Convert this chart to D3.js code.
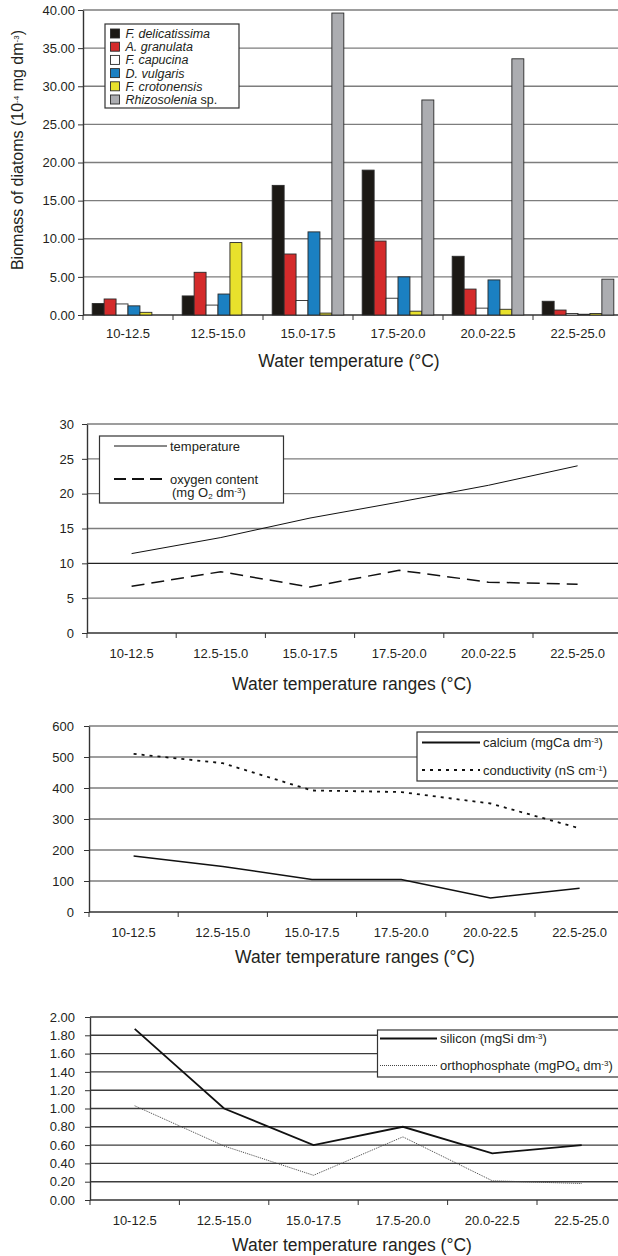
<!DOCTYPE html>
<html>
<head>
<meta charset="utf-8">
<script src="https://cdn.jsdelivr.net/npm/d3@7"></script>
<style>
  body { margin: 0; background: #fff; }
  svg { display: block; font-family: "Liberation Sans", Arial, sans-serif; }
  .tick text { fill: #231f20; }
</style>
</head>
<body>
<svg id="chart" width="618" height="1256"></svg>
<script>
'use strict'

// temperature ranges shared by all four panels
const categories = ['10-12.5', '12.5-15.0', '15.0-17.5', '17.5-20.0', '20.0-22.5', '22.5-25.0']

// panel 1 - biomass of diatoms (10^-4 mg dm^-3)
const species = ['F. delicatissima', 'A. granulata', 'F. capucina', 'D. vulgaris', 'F. crotonensis', 'Rhizosolenia']
const fDelicatissima = [1.5, 2.5, 17.0, 19.0, 7.7, 1.8]
const aGranulata = [2.1, 5.6, 8.0, 9.7, 3.4, 0.65]
const fCapucina = [1.45, 1.3, 1.9, 2.2, 0.9, 0.2]
const dVulgaris = [1.2, 2.75, 10.9, 5.0, 4.6, 0.1]
const fCrotonensis = [0.35, 9.5, 0.25, 0.5, 0.75, 0.2]
const rhizosolenia = [0, 0, 39.6, 28.2, 33.6, 4.7]
const biomassTicks = [0, 5, 10, 15, 20, 25, 30, 35, 40]

// panel 2
const temperature = [11.4, 13.7, 16.5, 18.8, 21.2, 24.0]
const oxygen = [6.7, 8.8, 6.6, 9.0, 7.3, 7.0]
const tempTicks = [0, 5, 10, 15, 20, 25, 30]

// panel 3
const calcium = [181, 147, 105, 105, 45, 77]
const conductivity = [510, 480, 392, 387, 350, 270]
const calciumTicks = [0, 100, 200, 300, 400, 500, 600]

// panel 4
const silicon = [1.87, 1.00, 0.60, 0.80, 0.51, 0.60]
const orthophosphate = [1.03, 0.59, 0.27, 0.69, 0.21, 0.18]
const siliconTicks = [0, 0.2, 0.4, 0.6, 0.8, 1.0, 1.2, 1.4, 1.6, 1.8, 2.0]

const svg = d3.select('#chart')
const ink = '#231f20'

function frame (p) {
  let t = {}
  t.x = d3.scaleBand().domain(categories).range([p.x0, p.x0 + p.step * categories.length])
  t.y = d3.scaleLinear().domain(p.domain).range([p.bottom, p.top])
  let g = svg.append('g')
  t.g = g
  // grid
  g.selectAll('.grid')
    .data(p.ticks.filter(function (v) { return v !== 0 }))
    .enter().append('line')
    .attr('x1', p.x0).attr('x2', 618)
    .attr('y1', function (v) { return t.y(v) })
    .attr('y2', function (v) { return t.y(v) })
    .attr('stroke', function (v) { return p.gridColor ? p.gridColor(v) : '#7d7d7d' })
    .attr('stroke-width', 1.4)
  // y axis
  let yAxis = d3.axisLeft(t.y).tickValues(p.ticks).tickFormat(d3.format(p.fmt))
    .tickSize(5).tickPadding(p.yPad).tickSizeOuter(0)
  g.append('g').attr('transform', `translate(${p.x0},0)`).call(yAxis)
    .call(function (a) {
      a.select('.domain').attr('stroke', '#333').attr('stroke-width', 1.4)
      a.selectAll('.tick line').attr('stroke', '#333')
      a.selectAll('text').attr('font-size', 13).attr('font-family', 'Liberation Sans, Arial, sans-serif')
    })
  // x axis: labels centred in each band, ticks on the band edges
  let xAxis = d3.axisBottom(t.x).tickSize(0).tickPadding(p.xPad)
  g.append('g').attr('transform', `translate(0,${p.bottom})`).call(xAxis)
    .call(function (a) {
      a.select('.domain').remove()
      a.selectAll('text').attr('font-size', 13).attr('font-family', 'Liberation Sans, Arial, sans-serif')
    })
  g.append('line')
    .attr('x1', p.x0).attr('x2', 618).attr('y1', p.bottom).attr('y2', p.bottom)
    .attr('stroke', '#333').attr('stroke-width', 1.4)
  g.selectAll('.edge')
    .data(categories)
    .enter().append('line')
    .attr('x1', function (d) { return t.x(d) })
    .attr('x2', function (d) { return t.x(d) })
    .attr('y1', p.bottom).attr('y2', p.bottom + 5)
    .attr('stroke', '#333')
  g.append('text')
    .attr('x', p.titleX).attr('y', p.titleY)
    .attr('text-anchor', 'middle')
    .attr('font-size', 17.5).attr('fill', ink)
    .text(p.title)
  return t
}

function drawLine (t, values, style) {
  let line = d3.line()
    .x(function (d, i) { return t.x(categories[i]) + t.x.bandwidth() / 2 })
    .y(function (d) { return t.y(d) })
  t.g.append('path')
    .datum(values)
    .attr('d', line)
    .attr('fill', 'none')
    .attr('stroke', style.color || '#111')
    .attr('stroke-width', style.width)
    .attr('stroke-dasharray', style.dash || null)
}

function legendBox (x, y, w, h) {
  svg.append('rect')
    .attr('x', x).attr('y', y).attr('width', w).attr('height', h)
    .attr('fill', '#fff').attr('stroke', '#333').attr('stroke-width', 1.2)
}

function legendEntry (x1, x2, y, style, parts) {
  svg.append('line')
    .attr('x1', x1).attr('x2', x2).attr('y1', y).attr('y2', y)
    .attr('stroke', style.color || '#111')
    .attr('stroke-width', style.width)
    .attr('stroke-dasharray', style.dash || null)
  let txt = svg.append('text')
    .attr('x', x2 + 3).attr('y', y + 4.5)
    .attr('font-size', 13).attr('fill', ink)
  addParts(txt, parts)
  return txt
}

// parts: array of [text, kind] with kind '', 'i', 'sup' or 'sub'
function addParts (txt, parts) {
  parts.forEach(function (p) {
    let s = txt.append('tspan').text(p[0])
    if (p[1] === 'sup') s.attr('font-size', 8).attr('baseline-shift', '55%')
    if (p[1] === 'sub') s.attr('font-size', 8).attr('baseline-shift', '-25%')
    if (p[1] === 'i') s.attr('font-style', 'italic')
  })
}

// ---------- panel 1: bars ----------
let p1 = frame({
  x0: 83, step: 90, top: 10, bottom: 315, domain: [0, 40],
  ticks: biomassTicks, fmt: '.2f', yPad: 3, xPad: 14,
  title: 'Water temperature (°C)', titleX: 349, titleY: 367
})
let seriesValues = [fDelicatissima, aGranulata, fCapucina, dVulgaris, fCrotonensis, rhizosolenia]
let barColors = ['#1c1915', '#d42b2b', '#ffffff', '#1b80c2', '#e8e12c', '#acadb1']
let inner = d3.scaleBand().domain(d3.range(species.length))
  .range([0, p1.x.bandwidth()]).paddingInner(0).paddingOuter(0.77)
let rows = []
categories.forEach(function (c, ci) {
  seriesValues.forEach(function (vals, si) {
    rows.push({cat: c, s: si, value: vals[ci]})
  })
})
p1.g.selectAll('.bar')
  .data(rows)
  .enter().append('rect')
  .attr('class', 'bar')
  .attr('x', function (d) { return p1.x(d.cat) + inner(d.s) })
  .attr('y', function (d) { return p1.y(d.value) })
  .attr('width', inner.bandwidth())
  .attr('height', function (d) { return p1.y(0) - p1.y(d.value) })
  .attr('fill', function (d) { return barColors[d.s] })
  .attr('stroke', '#2a2a2a')
  .attr('stroke-width', 0.9)

svg.append('text')
  .attr('transform', 'translate(23,150) rotate(-90)')
  .attr('text-anchor', 'middle')
  .attr('font-size', 16).attr('fill', ink)
  .call(function (txt) {
    addParts(txt, [['Biomass of diatoms (10', ''], ['-4', 'sup'], [' mg dm', ''], ['-3', 'sup'], [')', '']])
  })

legendBox(105, 24, 134, 84)
species.forEach(function (name, i) {
  let yy = 33.5 + i * 13.2
  svg.append('rect')
    .attr('x', 110.5).attr('y', yy - 4.5).attr('width', 9).attr('height', 9)
    .attr('fill', barColors[i]).attr('stroke', '#2a2a2a').attr('stroke-width', 0.9)
  let txt = svg.append('text')
    .attr('x', 125.5).attr('y', yy + 4.5)
    .attr('font-size', 12.5).attr('fill', ink)
  if (name === 'Rhizosolenia') addParts(txt, [[name, 'i'], [' sp.', '']])
  else addParts(txt, [[name, 'i']])
})

// ---------- panel 2: temperature / oxygen ----------
let p2 = frame({
  x0: 87, step: 89.2, top: 424, bottom: 633, domain: [0, 30],
  ticks: tempTicks, fmt: 'd', yPad: 8, xPad: 16,
  title: 'Water temperature ranges (°C)', titleX: 352, titleY: 690,
  gridColor: function (v) { return v === 10 ? '#222' : '#7d7d7d' }
})
drawLine(p2, temperature, {width: 1})
drawLine(p2, oxygen, {width: 1.5, dash: '13,7'})
legendBox(99.5, 436, 184, 67)
legendEntry(114, 167, 446, {width: 1}, [['temperature', '']])
legendEntry(114, 167, 479, {width: 1.8, dash: '12,6'}, [['oxygen content', '']])
svg.append('text').attr('x', 172).attr('y', 497)
  .attr('font-size', 13).attr('fill', ink)
  .call(function (txt) {
    addParts(txt, [['(mg O', ''], ['2', 'sub'], [' dm', ''], ['-3', 'sup'], [')', '']])
  })

// ---------- panel 3: calcium / conductivity ----------
let p3 = frame({
  x0: 89, step: 89.2, top: 726, bottom: 912, domain: [0, 600],
  ticks: calciumTicks, fmt: 'd', yPad: 10, xPad: 16,
  title: 'Water temperature ranges (°C)', titleX: 355, titleY: 963
})
drawLine(p3, calcium, {width: 1.5})
drawLine(p3, conductivity, {width: 1.8, dash: '3,5'})
legendBox(417, 732, 205, 49)
legendEntry(422, 480, 742.5, {width: 1.8}, [['calcium (mgCa dm', ''], ['-3', 'sup'], [')', '']])
legendEntry(422, 480, 770, {width: 1.8, dash: '3,5'}, [['conductivity (nS cm', ''], ['-1', 'sup'], [')', '']])

// ---------- panel 4: silicon / orthophosphate ----------
let p4 = frame({
  x0: 90, step: 89.4, top: 1017, bottom: 1200, domain: [0, 2],
  ticks: siliconTicks, fmt: '.2f', yPad: 10, xPad: 16,
  title: 'Water temperature ranges (°C)', titleX: 352, titleY: 1251,
  gridColor: function () { return '#3c3c3c' }
})
drawLine(p4, silicon, {width: 1.8})
drawLine(p4, orthophosphate, {width: 1, dash: '1,1', color: '#444'})
legendBox(377.5, 1030, 245, 47)
legendEntry(380, 437, 1038.5, {width: 2}, [['silicon (mgSi dm', ''], ['-3', 'sup'], [')', '']])
legendEntry(380, 437, 1065.5, {width: 1, dash: '1,1', color: '#444'},
  [['orthophosphate (mgPO', ''], ['4', 'sub'], [' dm', ''], ['-3', 'sup'], [')', '']])
</script>
</body>
</html>
